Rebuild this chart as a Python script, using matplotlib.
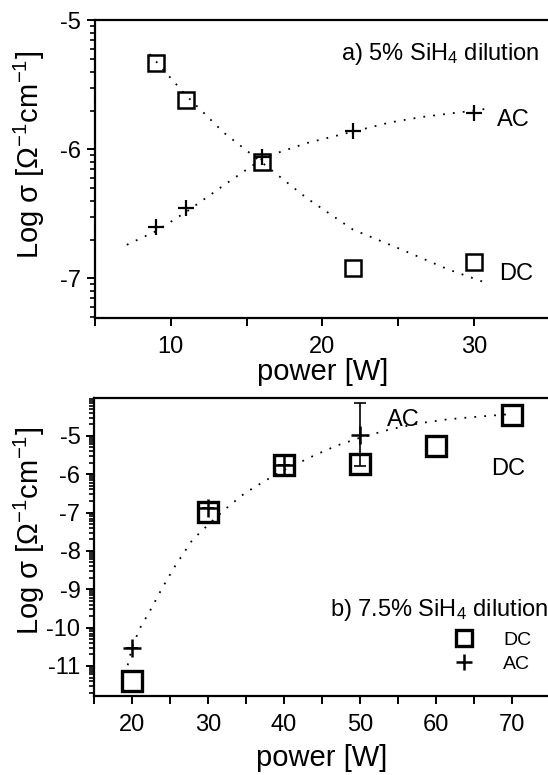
import numpy as np
import matplotlib
matplotlib.use("Agg")
import matplotlib.pyplot as plt
from matplotlib.ticker import FixedLocator
from matplotlib.lines import Line2D

plt.rcParams['font.family'] = ['Liberation Sans', 'DejaVu Sans']
plt.rcParams['mathtext.fontset'] = 'custom'
plt.rcParams['mathtext.rm'] = 'Liberation Sans'
plt.rcParams['mathtext.it'] = 'Liberation Sans:italic'
plt.rcParams['axes.unicode_minus'] = False

# ---- panel a) 5% SiH4 dilution ----
a_power = [9, 11, 16, 22, 30]
a_dc = [-5.33, -5.62, -6.10, -6.92, -6.87]
a_ac = [-6.60, -6.455, -6.06, -5.86, -5.72]
a_ac_fit_x = [7.1, 9.1, 11.2, 13.6, 16.2, 19.0, 22.1, 24.5, 26.5, 28.5, 30.0, 31.1]
a_ac_fit_y = [-6.74, -6.63, -6.47, -6.27, -6.06, -5.95, -5.86, -5.79, -5.75, -5.72, -5.70, -5.68]
a_dc_fit_x = [8.6, 9.5, 11.0, 13.5, 16.0, 19.0, 22.0, 25.3, 28.3, 30.7]
a_dc_fit_y = [-5.26, -5.38, -5.58, -5.87, -6.10, -6.38, -6.62, -6.78, -6.93, -7.03]

# ---- panel b) 7.5% SiH4 dilution ----
b_power_dc = [20, 30, 40, 50, 60, 70]
b_dc = [-11.39, -6.98, -5.76, -5.74, -5.26, -4.45]
b_power_ac = [20, 30, 40, 50]
b_ac = [-10.54, -6.89, -5.76, -4.97]
b_ac_err = [0, 0, 0, 0.82]
b_fit_x = [19.4, 20.0, 21.0, 22.4, 24.0, 25.6, 27.9, 30.2, 32.5, 34.8, 37.5, 40.0, 44.1, 47.0, 50.3, 54.0, 57.9, 61.5, 64.9, 70.0]
b_fit_y = [-10.98, -10.50, -10.02, -9.54, -8.95, -8.41, -7.72, -7.28, -6.87, -6.50, -6.17, -5.89, -5.50, -5.25, -5.03, -4.83, -4.67, -4.57, -4.51, -4.43]

fig = plt.figure(figsize=(5.48, 7.75), dpi=100)
W, H = 548.0, 775.0
axA = fig.add_axes([95 / W, 1 - 318.3 / H, (549.5 - 95) / W, (318.3 - 20.5) / H])
axB = fig.add_axes([94.3 / W, 1 - 695.5 / H, (549.5 - 94.3) / W, (695.5 - 398.3) / H])

def log_minor(lo, hi):
    out = []
    for n in range(int(np.floor(lo)) - 1, int(np.ceil(hi)) + 1):
        for k in range(2, 10):
            v = n + np.log10(k)
            if lo <= v <= hi:
                out.append(v)
    return out

def style(ax):
    for s in ax.spines.values():
        s.set_linewidth(1.6)
    ax.tick_params(which='major', direction='out', length=6, width=1.4,
                   labelsize=17, top=False, right=False, pad=4)
    ax.tick_params(which='minor', direction='out', length=3.5, width=1.2,
                   top=False, right=False)
    ax.tick_params(axis='x', which='major', pad=7)

dot = dict(color='black', lw=1.3, linestyle=(0, (1, 4.5)))
sq_a = dict(marker='s', ms=11, mfc='none', mec='black', mew=1.8, ls='none')
pl_a = dict(marker='+', ms=12, mec='black', mew=1.6, ls='none')

ylab = r'Log σ [Ω$^\mathregular{-1}$cm$^\mathregular{-1}$]'

# panel a
axA.plot(a_ac_fit_x, a_ac_fit_y, **dot)
axA.plot(a_dc_fit_x, a_dc_fit_y, **dot)
axA.plot(a_power, a_dc, **sq_a)
axA.plot(a_power, a_ac, **pl_a)
axA.set_xlim(5, 35)
axA.set_ylim(-7.31, -5)
axA.xaxis.set_major_locator(FixedLocator([10, 20, 30]))
axA.xaxis.set_minor_locator(FixedLocator([5, 15, 25, 35]))
axA.yaxis.set_major_locator(FixedLocator([-7, -6, -5]))
axA.yaxis.set_minor_locator(FixedLocator(log_minor(-7.31, -5)))
style(axA)
axA.tick_params(axis='x', which='minor', length=6, width=1.4)
axA.set_xlabel('power [W]', fontsize=21, labelpad=0)
axA.set_ylabel(ylab, fontsize=21)
axA.yaxis.set_label_coords(-0.105, 0.55)
axA.text(34.3, -5.26, r'a) 5% SiH$_\mathregular{4}$ dilution', fontsize=17, ha='right', va='center')
axA.text(31.5, -5.77, 'AC', fontsize=17, ha='left', va='center')
axA.text(31.7, -6.97, 'DC', fontsize=17, ha='left', va='center')

# panel b
sq_b = dict(marker='s', ms=14, mfc='none', mec='black', mew=2.4, ls='none')
pl_b = dict(marker='+', ms=13, mec='black', mew=1.8, ls='none')
axB.plot(b_fit_x, b_fit_y, **dot)
axB.plot(b_power_dc, b_dc, **sq_b)
axB.errorbar(b_power_ac, b_ac, yerr=b_ac_err, fmt='none', ecolor='black',
             elinewidth=1.2, capsize=4, capthick=1.2)
axB.plot(b_power_ac, b_ac, **pl_b)
axB.set_xlim(15, 75)
axB.set_ylim(-11.77, -4.02)
axB.xaxis.set_major_locator(FixedLocator([20, 30, 40, 50, 60, 70]))
axB.xaxis.set_minor_locator(FixedLocator([15, 25, 35, 45, 55, 65, 75]))
axB.yaxis.set_major_locator(FixedLocator([-11, -10, -9, -8, -7, -6, -5]))
axB.yaxis.set_minor_locator(FixedLocator(log_minor(-11.77, -4.02)))
style(axB)
axB.tick_params(axis='x', which='minor', length=6, width=1.4)
axB.set_xlabel('power [W]', fontsize=21, labelpad=6)
axB.set_ylabel(ylab, fontsize=21)
axB.yaxis.set_label_coords(-0.105, 0.555)
axB.text(55.7, -4.58, 'AC', fontsize=17, ha='center', va='center')
axB.text(69.6, -5.87, 'DC', fontsize=17, ha='center', va='center')
axB.text(74.8, -9.54, r'b) 7.5% SiH$_\mathregular{4}$ dilution', fontsize=17, ha='right', va='center')

handles = [Line2D([], [], marker='s', ms=12, mfc='none', mec='black', mew=2.4, ls='none'),
           Line2D([], [], marker='+', ms=12, mec='black', mew=1.8, ls='none')]
axB.legend(handles, ['DC', 'AC'], loc='lower right', bbox_to_anchor=(0.99, 0.03),
           frameon=False, fontsize=14, handletextpad=1.0, labelspacing=0.35,
           borderaxespad=0.3)

fig.savefig('out.png', dpi=100)
